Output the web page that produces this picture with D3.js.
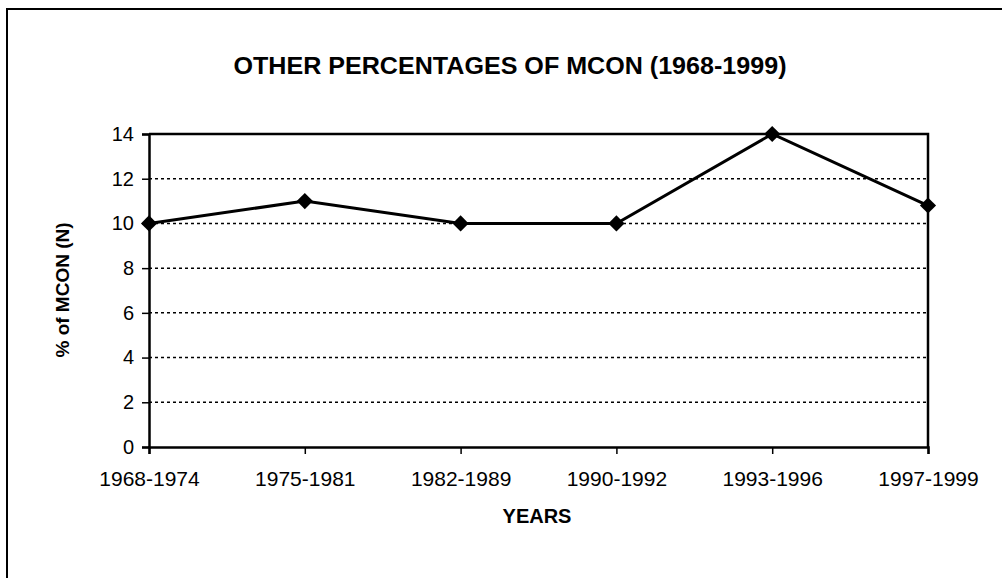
<!DOCTYPE html>
<html>
<head>
<meta charset="utf-8">
<script src="https://cdnjs.cloudflare.com/ajax/libs/d3/7.8.5/d3.min.js"></script>
<style>
  body { margin: 0; background: #fff; }
  text { font-family: "Liberation Sans", Arial, sans-serif; fill: #000; }
</style>
</head>
<body>
<script>
var periods = ['1968-1974', '1975-1981', '1982-1989', '1990-1992', '1993-1996', '1997-1999'];
var percentages = [10, 11, 10, 10, 14, 10.8];
var yTicks = [0, 2, 4, 6, 8, 10, 12, 14];

var width = 1002;
var height = 578;
var plot = { left: 149, top: 134, right: 928, bottom: 447 };

var svg = d3.select('body')
            .append('svg')
            .attr('width', width)
            .attr('height', height);

// outer frame (runs off the right and bottom edges)
svg.append('rect')
    .attr('x', 7).attr('y', 9)
    .attr('width', 1010).attr('height', 600)
    .attr('fill', 'none')
    .attr('stroke', '#000')
    .attr('stroke-width', 2);

var xScale = d3.scalePoint()
                .domain(periods)
                .range([plot.left, plot.right]);

var yScale = d3.scaleLinear()
                .domain([0, 14])
                .range([plot.bottom, plot.top]);

// dotted grid
svg.append('g')
    .selectAll('line')
    .data(yTicks.filter(function (d) { return d > 0 && d < 14; }))
    .enter()
    .append('line')
    .attr('x1', plot.left).attr('x2', plot.right)
    .attr('y1', function (d) { return yScale(d); })
    .attr('y2', function (d) { return yScale(d); })
    .attr('stroke', '#000')
    .attr('stroke-width', 1.5)
    .attr('stroke-dasharray', '3,3');

// plot frame top / right
svg.append('path')
    .attr('d', `M${plot.left},${plot.top}H${plot.right}V${plot.bottom}`)
    .attr('fill', 'none')
    .attr('stroke', '#000')
    .attr('stroke-width', 2.5);

var yAxis = svg.append('g')
    .attr('transform', `translate(${plot.left},0)`)
    .call(d3.axisLeft(yScale).tickValues(yTicks).tickSize(7).tickPadding(8));
yAxis.selectAll('text').style('font-size', '20px');

var xAxis = svg.append('g')
    .attr('transform', `translate(0,${plot.bottom})`)
    .call(d3.axisBottom(xScale).tickSize(7).tickPadding(17));
xAxis.selectAll('text').style('font-size', '21px');

svg.selectAll('.domain').attr('stroke-width', 2.5);
svg.selectAll('.tick line').attr('stroke-width', 1.5);

var line = d3.line()
              .x(function (d, i) { return xScale(periods[i]); })
              .y(function (d) { return yScale(d); });

svg.append('path')
    .datum(percentages)
    .attr('d', line)
    .attr('fill', 'none')
    .attr('stroke', '#000')
    .attr('stroke-width', 3);

// square diamonds like the spreadsheet marker
svg.selectAll('.marker')
    .data(percentages)
    .enter()
    .append('path')
    .attr('class', 'marker')
    .attr('d', d3.symbol().type(d3.symbolSquare).size(130))
    .attr('transform', function (d, i) { return `translate(${xScale(periods[i])},${yScale(d)}) rotate(45)`; })
    .attr('fill', '#000');

svg.append('text')
    .attr('x', 510).attr('y', 74)
    .attr('text-anchor', 'middle')
    .attr('textLength', 553)
    .attr('lengthAdjust', 'spacingAndGlyphs')
    .style('font-size', '23px')
    .style('font-weight', 'bold')
    .text('OTHER PERCENTAGES OF MCON (1968-1999)');

svg.append('text')
    .attr('transform', 'translate(69,290) rotate(-90)')
    .attr('text-anchor', 'middle')
    .style('font-size', '19px')
    .style('font-weight', 'bold')
    .text('% of MCON (N)');

svg.append('text')
    .attr('x', 537).attr('y', 523)
    .attr('text-anchor', 'middle')
    .style('font-size', '20px')
    .style('font-weight', 'bold')
    .text('YEARS');
</script>
</body>
</html>
